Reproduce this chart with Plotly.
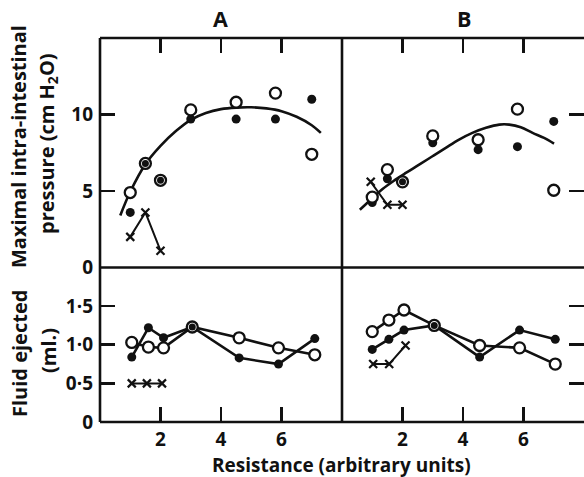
import plotly.graph_objects as go

# ---------------- data ----------------
# Panel A, top (maximal intra-intestinal pressure, cm H2O)
a_top_x = [1.0, 1.5, 2.0, 3.0, 4.5, 5.8, 7.0]
a_top_open = [4.9, 6.8, 5.7, 10.3, 10.8, 11.4, 7.4]
a_top_filled = [3.6, 6.8, 5.7, 9.7, 9.7, 9.7, 11.0]
a_top_cross_x = [1.0, 1.5, 2.0]
a_top_cross = [2.0, 3.6, 1.1]
a_curve_x = [0.67, 1.0, 1.5, 2.0, 2.5, 3.0, 3.5, 4.0, 4.5, 5.0, 5.5, 6.0, 6.5, 7.0, 7.3]
a_curve_y = [3.4, 4.95, 6.75, 7.95, 8.9, 9.65, 10.1, 10.35, 10.45, 10.47, 10.4, 10.22, 9.85, 9.3, 8.8]

# Panel B, top
b_top_x = [1.0, 1.5, 2.0, 3.0, 4.5, 5.8, 7.0]
b_top_open = [4.6, 6.4, 5.6, 8.6, 8.35, 10.35, 5.05]
b_top_filled = [4.25, 5.8, 5.6, 8.15, 7.7, 7.9, 9.55]
b_top_cross_x = [0.95, 1.5, 2.0]
b_top_cross = [5.6, 4.1, 4.1]
b_curve_x = [0.59, 1.01, 1.34, 1.73, 2.11, 2.55, 2.99, 3.43, 3.87, 4.31, 4.76, 5.2, 5.53, 5.91, 6.3, 6.68, 7.01]
b_curve_y = [3.77, 4.54, 5.13, 5.69, 6.18, 6.72, 7.27, 7.82, 8.36, 8.8, 9.13, 9.34, 9.34, 9.17, 8.8, 8.47, 8.1]

# Panel A, bottom (fluid ejected, ml.)
a_bot_x = [1.05, 1.6, 2.1, 3.05, 4.6, 5.9, 7.1]
a_bot_open = [1.03, 0.97, 0.96, 1.23, 1.09, 0.96, 0.87]
a_bot_filled = [0.84, 1.22, 1.09, 1.23, 0.83, 0.75, 1.08]
a_bot_cross_x = [1.05, 1.55, 2.05]
a_bot_cross = [0.5, 0.5, 0.5]

# Panel B, bottom
b_bot_x = [1.0, 1.55, 2.05, 3.05, 4.55, 5.87, 7.05]
b_bot_open = [1.17, 1.32, 1.45, 1.25, 0.99, 0.96, 0.75]
b_bot_filled = [0.94, 1.07, 1.19, 1.25, 0.84, 1.19, 1.07]
b_bot_cross_x = [1.03, 1.56, 2.1]
b_bot_cross = [0.75, 0.75, 0.99]

x_ticks = [2, 4, 6]
top_yticks = [0, 5, 10]
top_ylabels = ["0", "5", "10"]
bot_yticks = [0, 0.5, 1.0, 1.5]
bot_ylabels = ["0", "0·5", "1·0", "1·5"]

FONT = "Open Sans"
WEIGHT = 700
BLACK = "#111111"
LW = 2.6

# the page body margin is removed by a small post script, so the figure fills the window
FIG_W, FIG_H = 584, 477
PLOT_L, PLOT_T, PLOT_B = 100, 38, 422          # page pixel positions of plot area
ML, MT, MB = PLOT_L, PLOT_T, FIG_H - PLOT_B
PW = FIG_W - ML
PH = FIG_H - MT - MB

fig = go.Figure()


def add_panel(xa, ya, x, yo, yf, cx, cy, connect, curve=None):
    if curve is not None:
        fig.add_trace(go.Scatter(x=curve[0], y=curve[1], mode="lines",
                                 line=dict(color=BLACK, width=LW, shape="spline"),
                                 xaxis=xa, yaxis=ya, hoverinfo="skip"))
    fig.add_trace(go.Scatter(x=cx, y=cy, mode="lines+markers", line=dict(color=BLACK, width=2),
                             marker=dict(symbol="x-thin", size=8, line=dict(color=BLACK, width=2.2)),
                             xaxis=xa, yaxis=ya, cliponaxis=False))
    mode = "lines+markers" if connect else "markers"
    fig.add_trace(go.Scatter(x=x, y=yf, mode=mode, line=dict(color=BLACK, width=LW),
                             marker=dict(symbol="circle", size=9, color=BLACK),
                             xaxis=xa, yaxis=ya, cliponaxis=False))
    fig.add_trace(go.Scatter(x=x, y=yo, mode=mode, line=dict(color=BLACK, width=LW),
                             marker=dict(symbol="circle", size=11, color="white",
                                         line=dict(color=BLACK, width=2.3)),
                             xaxis=xa, yaxis=ya, cliponaxis=False))
    # coincident points: filled centre shown inside the open ring
    dx = [xi for xi, o, f in zip(x, yo, yf) if abs(o - f) < 1e-6]
    dy = [f for o, f in zip(yo, yf) if abs(o - f) < 1e-6]
    fig.add_trace(go.Scatter(x=dx, y=dy, mode="markers", marker=dict(symbol="circle", size=7, color=BLACK),
                             xaxis=xa, yaxis=ya, cliponaxis=False))


add_panel("x", "y", a_top_x, a_top_open, a_top_filled, a_top_cross_x, a_top_cross, False,
          (a_curve_x, a_curve_y))
add_panel("x2", "y2", b_top_x, b_top_open, b_top_filled, b_top_cross_x, b_top_cross, False,
          (b_curve_x, b_curve_y))
add_panel("x3", "y3", a_bot_x, a_bot_open, a_bot_filled, a_bot_cross_x, a_bot_cross, True)
add_panel("x4", "y4", b_bot_x, b_bot_open, b_bot_filled, b_bot_cross_x, b_bot_cross, True)

SPLIT = (PLOT_B - 267.5) / PH

common_x = dict(range=[0, 8], showgrid=False, zeroline=False, showline=False, ticks="inside",
                ticklen=15, tickwidth=LW, tickcolor=BLACK, tickvals=x_ticks, fixedrange=True)
common_y = dict(showgrid=False, zeroline=False, showline=False, ticks="inside",
                ticklen=15, tickwidth=LW, tickcolor=BLACK, fixedrange=True)

tickfont = dict(family=FONT, size=19, color=BLACK, weight=WEIGHT)

fig.update_layout(
    xaxis=dict(domain=[0, 0.5], anchor="y", side="top", showticklabels=False, **common_x),
    xaxis2=dict(domain=[0.5, 1], anchor="y2", side="top", showticklabels=False, **common_x),
    xaxis3=dict(domain=[0, 0.5], anchor="y3", side="bottom", showticklabels=True, tickfont=tickfont,
                ticktext=[str(v) for v in x_ticks], ticklabelstandoff=4, **common_x),
    xaxis4=dict(domain=[0.5, 1], anchor="y4", side="bottom", showticklabels=True, tickfont=tickfont,
                ticktext=[str(v) for v in x_ticks], ticklabelstandoff=4, **common_x),
    yaxis=dict(domain=[SPLIT, 1], anchor="x", range=[0, 15], tickvals=top_yticks, ticktext=top_ylabels,
               tickfont=tickfont, ticklabelstandoff=6, **common_y),
    yaxis2=dict(domain=[SPLIT, 1], anchor="x2", side="right", range=[0, 15], tickvals=[5, 10],
                showticklabels=False, **common_y),
    yaxis3=dict(domain=[0, SPLIT], anchor="x3", range=[0, 2], tickvals=bot_yticks, ticktext=bot_ylabels,
                tickfont=tickfont, ticklabelstandoff=6, **common_y),
    yaxis4=dict(domain=[0, SPLIT], anchor="x4", side="right", range=[0, 2], tickvals=[0.5, 1.0, 1.5],
                showticklabels=False, **common_y),
    width=FIG_W, height=FIG_H,
    margin=dict(l=ML, r=0, t=MT, b=MB, autoexpand=False),
    paper_bgcolor="white", plot_bgcolor="white",
    showlegend=False,
    font=dict(family=FONT, color=BLACK),
)

# frame lines
frame = [
    (0, 0, 0, 1), (0, 1, 1, 1), (0.5, 0, 0.5, 1), (0, SPLIT, 1, SPLIT), (0, 0, 1, 0),
]
for x0, y0, x1, y1 in frame:
    fig.add_shape(type="line", xref="paper", yref="paper", x0=x0, y0=y0, x1=x1, y1=y1,
                  line=dict(color=BLACK, width=LW), layer="above")


def px2paper(px, py):
    return (px - PLOT_L) / PW, (PLOT_B - py) / PH


ann = [
    ("A", 220, 18, 21.5),
    ("B", 464, 18, 21.5),
    ("Resistance (arbitrary units)", 341, 465, 19),
]
for text, px, py, size in ann:
    xp, yp = px2paper(px, py)
    fig.add_annotation(text=text, x=xp, y=yp, xref="paper", yref="paper",
                       xanchor="center", yanchor="middle", showarrow=False,
                       font=dict(family=FONT, size=size, color=BLACK, weight=WEIGHT))

rot = [
    ("Maximal intra-intestinal", 18, 147),
    ("pressure (cm H<sub>2</sub>O)", 47, 144),
    ("Fluid ejected", 19, 354),
    ("(ml.)", 48, 351),
]
for text, px, py in rot:
    xp, yp = px2paper(px, py)
    fig.add_annotation(text=text, x=xp, y=yp, xref="paper", yref="paper",
                       xanchor="center", yanchor="middle", showarrow=False, textangle=-90,
                       font=dict(family=FONT, size=20, color=BLACK, weight=WEIGHT))

fig.write_html("out.html", config={"displayModeBar": False, "staticPlot": True},
               post_script="document.body.style.margin='0';")
